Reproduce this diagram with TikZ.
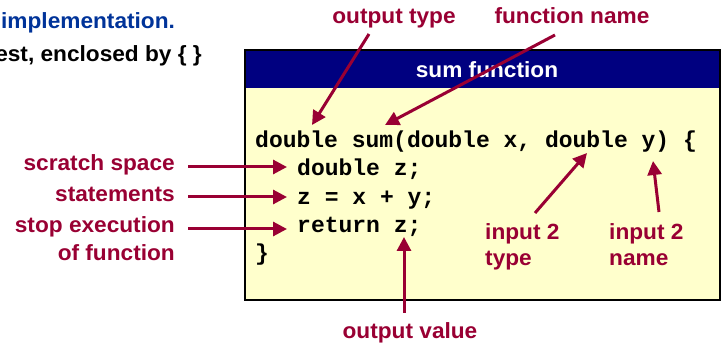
\documentclass[tikz,border=0pt]{standalone}
\usepackage{fontspec}
\setmainfont{Liberation Sans}
\newfontfamily\lblfont[FakeStretch=1.03]{Liberation Sans}
\newfontfamily\codefont{Liberation Mono}
\usetikzlibrary{arrows.meta,calc}
\definecolor{wine}{RGB}{153,0,51}
\definecolor{navyhead}{RGB}{0,0,128}
\definecolor{titleblue}{RGB}{0,51,153}
\definecolor{paleyellow}{RGB}{255,255,204}

\tikzset{
  lbl/.style={font=\lblfont\bfseries\fontsize{22}{26}\selectfont, inner sep=2pt},
  note/.style={lbl, text=wine},
  code/.style={anchor=base west, inner sep=0pt, font=\codefont\bfseries\fontsize{23}{28}\selectfont},
  arr/.style={wine, line width=3pt, -{Triangle[length=14pt,width=14pt]}}
}

\begin{document}
\begin{tikzpicture}[x=1pt, y=-1pt]
  \useasboundingbox (0,0) rectangle (721,347);

  % cut-off slide text
  \node[lbl, text=titleblue, anchor=base west] (impl) at (-1,29) {implementation.};
  \node[lbl, anchor=base east] (encl) at (204,62) {est, enclosed by \{ \}};

  % function box
  \fill[paleyellow] (245,50) rectangle (720,300);
  \fill[navyhead] (245,50) rectangle (720,88);
  \draw[line width=1.2pt] (245,50) rectangle (720,300);
  \node[lbl, text=white, anchor=base] (title) at (487,78) {sum function};

  % code lines
  \node[code] (code1) at (255,148) {double sum(double x, double y) \{};
  \node[code] (code2) at (297,176) {double z;};
  \node[code] (code3) at (297,205) {z = x + y;};
  \node[code] (code4) at (297,233) {return z;};
  \node[code] (code5) at (255,261) {\}};

  % labels
  \node[note, anchor=base] (outtype) at (394,24) {output type};
  \node[note, anchor=base] (funcname) at (572,24) {function name};
  \node[note, anchor=base east] (scratch) at (177,171) {scratch space};
  \node[note, anchor=base east] (stmts) at (177,202) {statements};
  \node[note, anchor=base east] (stop) at (177,233) {stop execution};
  \node[note, anchor=base east] (stopb) at (177,261) {of function};
  \node[note, anchor=base west] (intype) at (483,240) {input 2};
  \node[note, anchor=base west] (intypeb) at (483,266) {type};
  \node[note, anchor=base west] (inname) at (607,240) {input 2};
  \node[note, anchor=base west] (innameb) at (607,266) {name};
  \node[note, anchor=base] (outval) at (410,339) {output value};

  % connectors
  \draw[arr] ($(outtype.base)+(-25,10)$) -- ($(code1.base west)+(57,-23)$);
  \draw[arr] ($(funcname.base)+(-17,11)$) -- ($(code1.base west)+(130,-23)$);
  \draw[arr] ($(scratch.base east)+(11,-4)$) -- ($(code2.base west)+(-10,-9)$);
  \draw[arr] ($(stmts.base east)+(11,-5)$) -- ($(code3.base west)+(-10,-8)$);
  \draw[arr] ($(stop.base east)+(11,-4)$) -- ($(code4.base west)+(-10,-4)$);
  \draw[arr] ($(intype.base west)+(52,-27)$) -- ($(code1.base west)+(332,5)$);
  \draw[arr] ($(inname.base west)+(52,-28)$) -- ($(code1.base west)+(398,13)$);
  \draw[arr] ($(outval.base)+(-6,-26)$) -- ($(code4.base west)+(107,4)$);
\end{tikzpicture}
\end{document}
